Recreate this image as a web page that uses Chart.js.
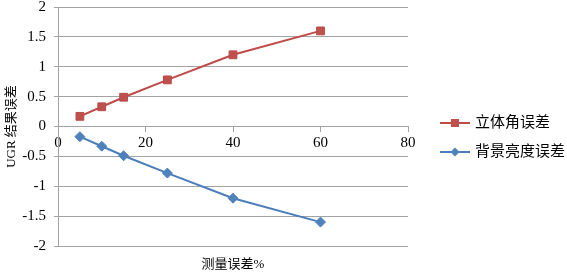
<!DOCTYPE html>
<html>
<head>
<meta charset="utf-8">
<script src="https://cdn.jsdelivr.net/npm/chart.js@4/dist/chart.umd.min.js"></script>
<style>
  html, body { margin: 0; padding: 0; background: #fff; }
</style>
</head>
<body>
<canvas id="chart" width="567" height="272"></canvas>
<script>
// ===== Data =====
const xValues = [5, 10, 15, 25, 40, 60];
const solidAngleErr = [0.17, 0.33, 0.49, 0.78, 1.2, 1.6];
const bgLumErr = [-0.17, -0.33, -0.49, -0.78, -1.2, -1.6];
const seriesNames = ['立体角误差', '背景亮度误差'];
const xTitle = '测量误差%';
const yTitle = 'UGR 结果误差';

const FONT = "'Liberation Serif', 'Noto Sans CJK SC', serif";
const GRID = '#a3a3a3';

const toPoints = (ys) => ys.map((y, i) => ({ x: xValues[i], y }));

// legend drawn to the right of the plot: short line with marker + label
const sideLegend = {
    id: 'sideLegend',
    afterDraw(chart) {
        const ctx = chart.ctx;
        const area = chart.chartArea;
        const x0 = area.right + 32;
        chart.data.datasets.forEach((ds, i) => {
            const y = 123 + i * 29;
            ctx.save();
            ctx.strokeStyle = ds.borderColor;
            ctx.lineWidth = 2;
            ctx.beginPath();
            ctx.moveTo(x0, y);
            ctx.lineTo(x0 + 30, y);
            ctx.stroke();
            ctx.fillStyle = ds.pointBackgroundColor;
            const cx = x0 + 15;
            if (ds.pointStyle === 'rect') {
                ctx.fillRect(cx - 4, y - 4, 8, 8);
            } else {
                ctx.beginPath();
                ctx.moveTo(cx, y - 4.5);
                ctx.lineTo(cx + 4.5, y);
                ctx.lineTo(cx, y + 4.5);
                ctx.lineTo(cx - 4.5, y);
                ctx.closePath();
                ctx.fill();
            }
            ctx.fillStyle = '#000';
            ctx.font = '15px ' + FONT;
            ctx.textBaseline = 'middle';
            ctx.fillText(ds.label, x0 + 35, y);
            ctx.restore();
        });
    }
};

new Chart(document.getElementById('chart').getContext('2d'), {
    type: 'scatter',
    data: {
        datasets: [
            {
                label: seriesNames[0],
                data: toPoints(solidAngleErr),
                showLine: true,
                borderColor: '#BE4B48',
                borderWidth: 2,
                pointStyle: 'rect',
                pointRadius: 5.5,
                pointBackgroundColor: '#C0504D',
                pointBorderColor: '#B84A47',
                pointBorderWidth: 1,
            },
            {
                label: seriesNames[1],
                data: toPoints(bgLumErr),
                showLine: true,
                borderColor: '#4A7EBB',
                borderWidth: 2,
                pointStyle: 'rectRot',
                pointRadius: 5,
                pointBackgroundColor: '#4F81BD',
                pointBorderColor: '#4F81BD',
                pointBorderWidth: 1,
            }
        ]
    },
    options: {
        responsive: false,
        animation: false,
        layout: { padding: { top: 7, right: 159, left: 0, bottom: 0 } },
        plugins: {
            legend: { display: false },
            tooltip: { enabled: false }
        },
        scales: {
            x: {
                type: 'linear',
                position: { y: 0 },
                min: 0,
                max: 80,
                afterFit: (s) => { s.height = 0; s.paddingTop = 0; s.paddingBottom = 0; },
                ticks: { stepSize: 20, color: '#000', font: { family: FONT, size: 15 }, padding: 3 },
                grid: { drawOnChartArea: false, color: GRID, tickLength: 5 },
                border: { color: GRID }
            },
            x2: {
                type: 'linear',
                position: 'bottom',
                min: 0,
                max: 80,
                afterFit: (s) => { s.height = 26; },
                ticks: { display: false },
                grid: { display: false },
                border: { display: false },
                title: {
                    display: true,
                    text: xTitle,
                    color: '#000',
                    font: { family: FONT, size: 13 },
                    padding: { top: -3, bottom: 0 }
                }
            },
            y: {
                min: -2,
                max: 2,
                afterFit: (s) => { s.width = 58; s.paddingTop = 0; s.paddingBottom = 0; },
                ticks: {
                    stepSize: 0.5,
                    color: '#000',
                    font: { family: FONT, size: 15 },
                    padding: 8,
                    callback: (v) => String(v)
                },
                grid: { color: GRID, tickLength: 4 },
                border: { color: GRID },
                title: {
                    display: true,
                    text: yTitle,
                    color: '#000',
                    font: { family: FONT, size: 13 },
                    padding: { top: 4, bottom: 0 }
                }
            }
        }
    },
    plugins: [sideLegend]
});
</script>
</body>
</html>
